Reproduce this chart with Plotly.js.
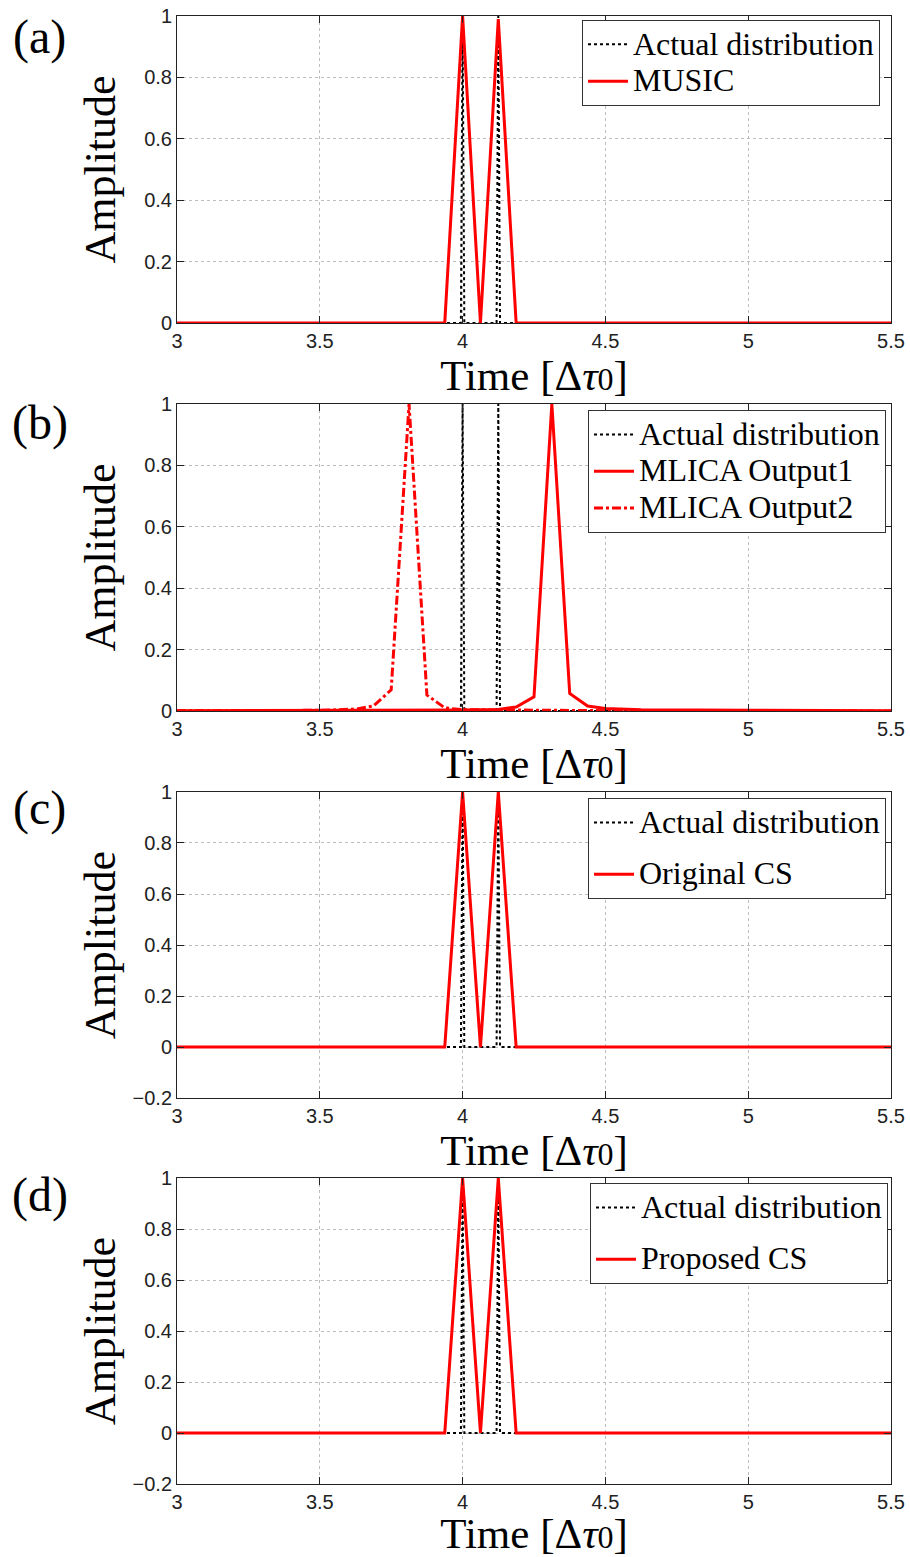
<!DOCTYPE html>
<html><head><meta charset="utf-8">
<script src="https://cdn.plot.ly/plotly-3.0.1.min.js"></script>
<style>body{margin:0;background:#fff}#g{width:910px;height:1557px}</style>
</head><body><div id="g"></div>
<script>
// ---- data ----
const actualX = [3, 3.994, 4.0, 4.006, 4.119, 4.125, 4.131, 5.5];
const actualY = [0, 0, 1, 0, 0, 1, 0, 0];

const musicX = [3, 3.9375, 4.0, 4.0625, 4.125, 4.1875, 5.5];
const musicY = [0, 0, 1, 0, 0.99, 0, 0];

const mlica1X = [3, 3.5, 3.75, 4.0, 4.125, 4.1875, 4.25, 4.3125, 4.375, 4.4375, 4.5, 4.625, 5.0, 5.5];
const mlica1Y = [0.001, 0.001, 0.001, 0.003, 0.005, 0.013, 0.046, 1.0, 0.057, 0.016, 0.008, 0.004, 0.002, 0.001];

const mlica2X = [3, 3.5, 3.625, 3.6875, 3.75, 3.8125, 3.875, 3.9375, 4.0, 4.25, 4.5, 5.0, 5.5];
const mlica2Y = [0.001, 0.002, 0.006, 0.016, 0.069, 1.0, 0.052, 0.01, 0.004, 0.002, 0.001, 0.001, 0.0];

const origX = [3, 3.9375, 4.0, 4.0625, 4.125, 4.1875, 5.5];
const origY = [0, 0, 1, 0, 1, 0, 0];

const propX = [3, 3.9375, 4.0, 4.0625, 4.125, 4.1875, 5.5];
const propY = [0, 0, 1, 0, 1, 0, 0];

const xTicks = [3, 3.5, 4, 4.5, 5, 5.5];
const yTicksAB = [0, 0.2, 0.4, 0.6, 0.8, 1];
const yTicksCD = [-0.2, 0, 0.2, 0.4, 0.6, 0.8, 1];
const panelLabels = ['(a)', '(b)', '(c)', '(d)'];

// ---- styles ----
const SERIF = 'Liberation Serif, Times New Roman, serif';
const SANS = 'Liberation Sans, Arial, sans-serif';
const RED = '#ff0000';
const blackDot = {color: '#000', width: 2, dash: 'dot'};
const redSolid = {color: RED, width: 3};
const redDashDot = {color: RED, width: 3, dash: 'dashdot'};
const big = s => '<span style="font-size:32px">' + s + '</span>';

function tr(x, y, name, line, ax, leg, grp) {
  return {x: x, y: y, name: big(name), type: 'scatter', mode: 'lines', line: line,
          xaxis: 'x' + (ax === 1 ? '' : ax), yaxis: 'y' + (ax === 1 ? '' : ax),
          legend: leg, legendgroup: grp, showlegend: true, hoverinfo: 'skip'};
}

const data = [
  tr(actualX, actualY, 'Actual distribution', blackDot, 1, 'legend', 'a1'),
  tr(musicX, musicY, 'MUSIC', redSolid, 1, 'legend', 'a2'),
  tr(actualX, actualY, 'Actual distribution', blackDot, 2, 'legend2', 'b1'),
  tr(mlica1X, mlica1Y, 'MLICA Output1', redSolid, 2, 'legend2', 'b2'),
  tr(mlica2X, mlica2Y, 'MLICA Output2', redDashDot, 2, 'legend2', 'b3'),
  tr(actualX, actualY, 'Actual distribution', blackDot, 3, 'legend3', 'c1'),
  tr(origX, origY, 'Original CS', redSolid, 3, 'legend3', 'c2'),
  tr(actualX, actualY, 'Actual distribution', blackDot, 4, 'legend4', 'd1'),
  tr(propX, propY, 'Proposed CS', redSolid, 4, 'legend4', 'd2')
];

const xTitle = 'Time [Δ<i>τ</i><span style="font-size:32px">0</span>]';

function xa(anchor) {
  return {range: [3, 5.5], tickvals: xTicks, ticktext: xTicks.map(String), anchor: anchor,
    showline: true, linecolor: '#222', linewidth: 1, mirror: 'ticks', ticks: 'inside', ticklen: 7,
    tickcolor: '#222', showgrid: true, gridcolor: '#bdbdbd', griddash: 'dot', gridwidth: 1,
    zeroline: false, tickfont: {family: SANS, size: 20, color: '#222'}, automargin: false,
    title: {text: xTitle, font: {family: SERIF, size: 43, color: '#000'}, standoff: 0}};
}
function ya(anchor, dom, cd) {
  const t = cd ? yTicksCD : yTicksAB;
  return {range: cd ? [-0.2, 1] : [0, 1], domain: dom, anchor: anchor, tickvals: t,
    ticktext: t.map(v => (v < 0 ? '\u2212' + Math.abs(v) : String(v))),
    showline: true, linecolor: '#222', linewidth: 1, mirror: 'ticks', ticks: 'inside', ticklen: 7,
    tickcolor: '#222', showgrid: true, gridcolor: '#bdbdbd', griddash: 'dot', gridwidth: 1,
    zeroline: false, tickfont: {family: SANS, size: 20, color: '#222'}, automargin: false,
    title: {text: 'Amplitude', font: {family: SERIF, size: 44, color: '#000'}, standoff: cd ? 3 : 14}};
}

function leg(x, y, gap) {
  return {x: x, y: y, xanchor: 'right', yanchor: 'top', xref: 'paper', yref: 'paper',
    bgcolor: '#fff', bordercolor: '#333', borderwidth: 1, tracegroupgap: gap,
    font: {family: SERIF, size: 26, color: '#000'}, itemwidth: 40};
}

const labY = [0.9857, 0.7228, 0.4605, 0.1969];
const layout = {
  width: 910, height: 1557, paper_bgcolor: '#fff', plot_bgcolor: '#fff',
  margin: {l: 177, r: 19, t: 16, b: 73},
  showlegend: true,
  xaxis: xa('y'), xaxis2: xa('y2'), xaxis3: xa('y3'), xaxis4: xa('y4'),
  yaxis: ya('x', [0.7909, 1.0], false),
  yaxis2: ya('x2', [0.5266, 0.7357], false),
  yaxis3: ya('x3', [0.2629, 0.4714], true),
  yaxis4: ya('x4', [0, 0.2084], true),
  legend: leg(0.9846, 0.9973, 0),
  legend2: leg(0.993, 0.7316, 0),
  legend3: leg(0.993, 0.4673, 15),
  legend4: leg(0.9958, 0.2050, 15),
  annotations: panelLabels.map((t, i) => ({text: t, xref: 'paper', yref: 'paper', x: -0.192, y: labY[i],
    xanchor: 'center', yanchor: 'middle', showarrow: false, font: {family: SERIF, size: 48, color: '#000'}}))
};

Plotly.newPlot('g', data, layout, {staticPlot: true});
</script>
</body></html>
